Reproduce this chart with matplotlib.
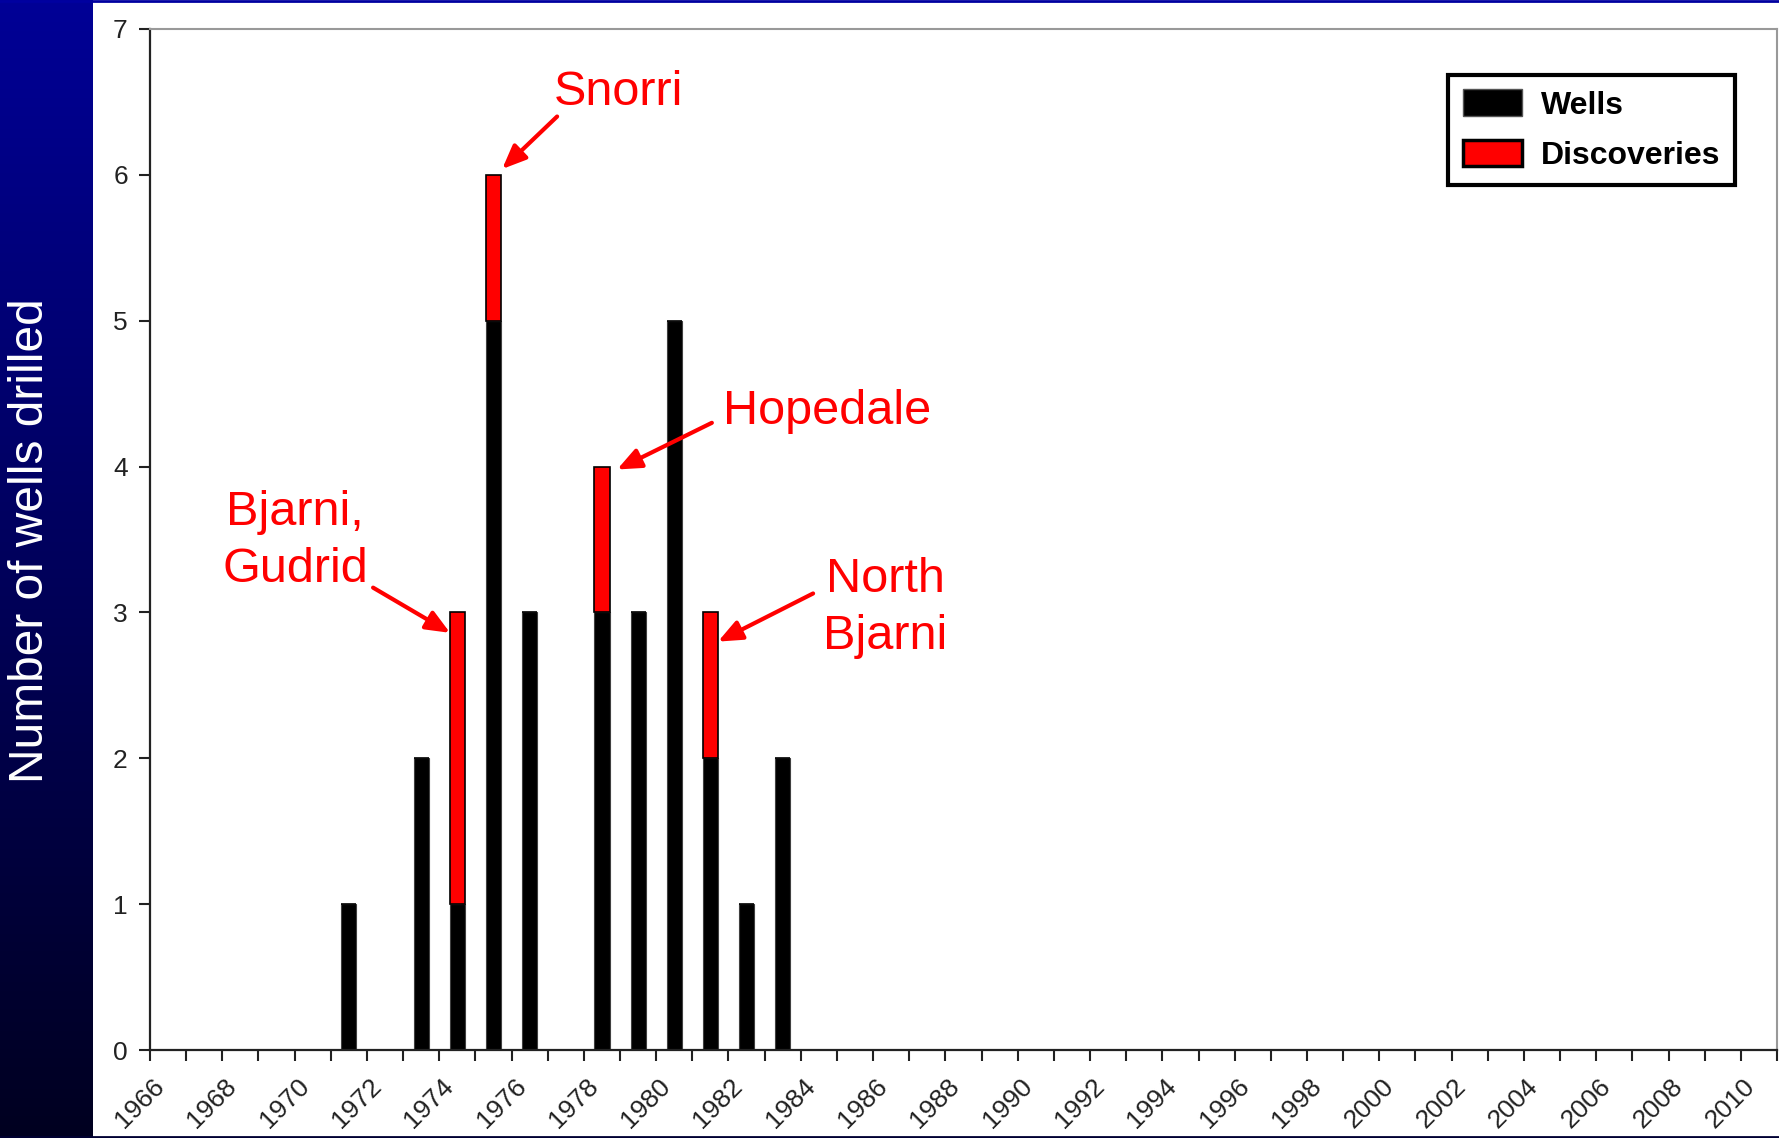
import numpy as np
import matplotlib.pyplot as plt
from matplotlib.patches import Patch
from matplotlib.transforms import ScaledTranslation

plt.rcParams['font.family'] = ['Liberation Sans', 'DejaVu Sans']

# data
years = np.arange(1966, 2011)
well_years = [1971, 1973, 1974, 1975, 1976, 1978, 1979, 1980, 1981, 1982, 1983]
well_counts = [1, 2, 1, 5, 3, 3, 3, 5, 2, 1, 2]
disc_years = [1974, 1975, 1978, 1981]
disc_counts = [2, 1, 1, 1]

wells = np.zeros(len(years))
disc = np.zeros(len(years))
for yr, n in zip(well_years, well_counts):
    wells[yr - 1966] = n
for yr, n in zip(disc_years, disc_counts):
    disc[yr - 1966] = n

label_years = years[::2]

# annotations: text, text position (year, baseline value), arrow tail, arrow tip
notes = [
    ('Snorri', (1978.47, 6.48), (1976.76, 6.40), (1975.24, 6.04)),
    ('Hopedale', (1984.22, 4.29), (1981.04, 4.30), (1978.42, 3.98)),
    ('Bjarni,\nGudrid', (1969.51, 3.60), (1971.67, 3.17), (1973.80, 2.86)),
    ('North\nBjarni', (1985.83, 3.14), (1983.84, 3.13), (1981.21, 2.80)),
]

fig = plt.figure(figsize=(17.79, 11.38), dpi=100)

# blue gradient strip on the left
bg = fig.add_axes([0, 0, 93 / 1779, 1])
grad = np.linspace(0, 1, 256).reshape(-1, 1)
top_c = np.array([0, 0, 150]) / 255
bot_c = np.array([0, 0, 32]) / 255
img = top_c[None, None, :] * (1 - grad[:, :, None]) + bot_c[None, None, :] * grad[:, :, None]
bg.imshow(img, aspect='auto', extent=[0, 1, 0, 1])
bg.axis('off')

# thin border lines top and bottom
fig.add_artist(plt.Line2D([0, 1], [0.999, 0.999], color='#0000a0', lw=2, transform=fig.transFigure))
fig.add_artist(plt.Line2D([0, 1], [0.001, 0.001], color='#000033', lw=2, transform=fig.transFigure))

fig.text(31 / 1779, 1 - 541 / 1138, 'Number of wells drilled', color='white', fontsize=34.5,
         rotation=90, ha='center', va='center')

ax = fig.add_axes([150 / 1779, 88 / 1138, 1627 / 1779, 1021 / 1138])
ax.bar(years, wells, width=0.42, color='black', edgecolor='#404040', linewidth=0.8)
ax.bar(years, disc, width=0.42, bottom=wells, color='#ff0000', edgecolor='black', linewidth=1.2)

ax.set_xlim(1965.5, 2010.5)
ax.set_ylim(0, 7)

ax.set_yticks(range(8))
ax.tick_params(axis='y', length=8, width=1.5, pad=8, labelsize=19, colors='#222222')

# tick marks between categories, labels every two years
ax.set_xticks(np.arange(1965.5, 2011.5, 1))
ax.set_xticklabels([])
ax.set_xticks(label_years, [str(y) for y in label_years], minor=True)
ax.tick_params(axis='x', which='major', length=8, width=1.5, color='#222222')
ax.tick_params(axis='x', which='minor', length=0, pad=17, labelsize=19, labelcolor='#222222')
for lab in ax.get_xticklabels(minor=True):
    lab.set_rotation(45)
    lab.set_ha('right')
    lab.set_va('top')
    lab.set_rotation_mode('anchor')
    lab.set_transform(lab.get_transform() + ScaledTranslation(-16 / 100, 0, fig.dpi_scale_trans))

for s in ['left', 'bottom']:
    ax.spines[s].set_color('#222222')
    ax.spines[s].set_linewidth(1.6)
for s in ['top', 'right']:
    ax.spines[s].set_color('#999999')
    ax.spines[s].set_linewidth(1.5)

for txt, tpos, tail, tip in notes:
    lines = txt.split('\n')
    for i, line in enumerate(lines):
        ax.text(tpos[0], tpos[1] - i * 0.39, line, color='#ff0000', fontsize=35,
                ha='center', va='baseline')
    ax.annotate('', xy=tip, xytext=tail,
                arrowprops=dict(arrowstyle='-|>,head_length=0.9,head_width=0.38',
                                mutation_scale=16, color='#ff0000', lw=3,
                                shrinkA=0, shrinkB=0))

handles = [Patch(facecolor='black', edgecolor='#555555', linewidth=1),
           Patch(facecolor='#ff0000', edgecolor='black', linewidth=2.5)]
leg = fig.legend(handles, ['Wells', 'Discoveries'], loc='upper right',
                 bbox_to_anchor=(1735 / 1779, 1 - 75 / 1138), borderaxespad=0,
                 prop={'weight': 'bold', 'size': 23}, handlelength=1.85, handleheight=0.9,
                 handletextpad=0.6, borderpad=0.45, labelspacing=0.6, fancybox=False,
                 framealpha=1, edgecolor='black')
leg.get_frame().set_linewidth(3)

fig.savefig('out.png', dpi=100)
